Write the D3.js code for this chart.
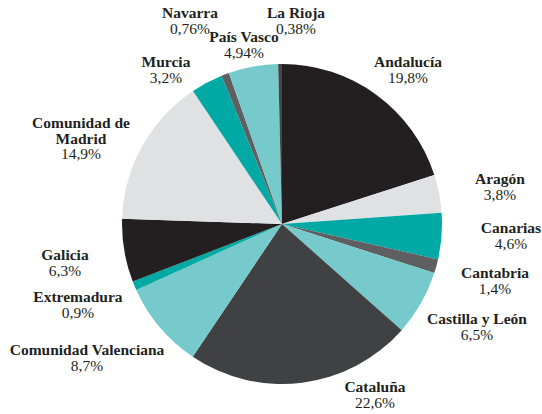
<!DOCTYPE html>
<html>
<head>
<meta charset="utf-8">
<script src="https://cdn.jsdelivr.net/npm/d3@7"></script>
<style>
  html, body { margin: 0; padding: 0; background: #fff; }
  svg { display: block; }
  .name { font-family: "Liberation Serif", "DejaVu Serif", serif; font-weight: bold; font-size: 15.5px; fill: #231f20; }
  .pct { font-family: "Liberation Serif", "DejaVu Serif", serif; font-size: 15.5px; fill: #231f20; }
</style>
</head>
<body>
<script>
const regions = ["Andalucía", "Aragón", "Canarias", "Cantabria", "Castilla y León", "Cataluña",
  "Comunidad Valenciana", "Extremadura", "Galicia", "Comunidad de Madrid", "Murcia",
  "Navarra", "País Vasco", "La Rioja"];
const values = [19.8, 3.8, 4.6, 1.4, 6.5, 22.6, 8.7, 0.9, 6.3, 14.9, 3.2, 0.76, 4.94, 0.38];
const valueLabels = ["19,8%", "3,8%", "4,6%", "1,4%", "6,5%", "22,6%", "8,7%", "0,9%", "6,3%",
  "14,9%", "3,2%", "0,76%", "4,94%", "0,38%"];
const nameLines = [["Andalucía"], ["Aragón"], ["Canarias"], ["Cantabria"], ["Castilla y León"],
  ["Cataluña"], ["Comunidad Valenciana"], ["Extremadura"], ["Galicia"],
  ["Comunidad de", "Madrid"], ["Murcia"], ["Navarra"], ["País Vasco"], ["La Rioja"]];
const colors = ["#231f20", "#e0e1e3", "#00a9a4", "#5e5f61", "#77cacb", "#404143",
  "#77cacb", "#00a9a4", "#231f20", "#e0e1e3", "#00a9a4", "#5e5f61", "#77cacb", "#454647"];

// label layout: [center x, baseline y of first line]
const labelPos = [[408, 67], [500, 184], [511, 233], [495, 278], [477, 324], [375, 392],
  [87, 355], [78, 302], [65, 260], [81, 128], [166, 67], [190, 18], [244, 42], [296, 18]];

const W = 542, H = 414;
const cx = 282, cy = 224, R = 160;

const svg = d3.select("body").append("svg").attr("width", W).attr("height", H);

const color = d3.scaleOrdinal().domain(regions).range(colors);
const pie = d3.pie().sort(null).value(d => d.value);
const data = regions.map((r, i) => ({ name: r, value: values[i] }));
const arc = d3.arc().innerRadius(0).outerRadius(R);

const g = svg.append("g").attr("transform", `translate(${cx},${cy})`);
g.selectAll("path").data(pie(data)).join("path")
  .attr("d", arc)
  .attr("fill", d => color(d.data.name));

const lh = 15.5;
regions.forEach((r, i) => {
  const [x, y] = labelPos[i];
  const t = svg.append("text").attr("text-anchor", "middle");
  nameLines[i].forEach((ln, k) => {
    t.append("tspan").attr("class", "name").attr("x", x).attr("y", y + k * lh).text(ln);
  });
  t.append("tspan").attr("class", "pct").attr("x", x).attr("y", y + nameLines[i].length * lh).text(valueLabels[i]);
});
</script>
</body>
</html>
